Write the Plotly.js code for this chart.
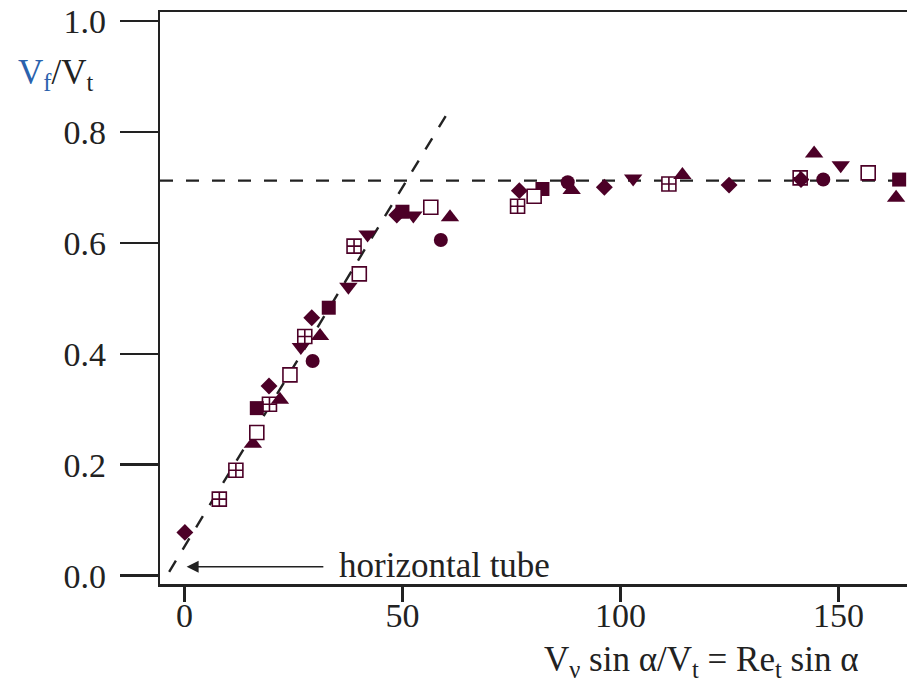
<!DOCTYPE html>
<html>
<head>
<meta charset="utf-8">
<script src="https://cdn.plot.ly/plotly-3.0.1.min.js"></script>
<style>html,body{margin:0;padding:0;background:#fff;}#chart{width:907px;height:684px;}</style>
</head>
<body>
<div id="chart"></div>
<script>
// ---- data ----
const diamondX = [0.1, 19.4, 29.2, 48.7, 76.8, 96.3, 124.9, 141.4];
const diamondY = [0.078, 0.342, 0.465, 0.650, 0.694, 0.700, 0.704, 0.714];

const openSquareX = [16.6, 24.2, 40.1, 56.5, 80.2, 156.8];
const openSquareY = [0.258, 0.362, 0.544, 0.664, 0.684, 0.726];

const crossSquareX = [8.0, 11.8, 19.5, 27.6, 38.9, 76.4, 111.1, 141.2];
const crossSquareY = [0.138, 0.190, 0.309, 0.431, 0.594, 0.666, 0.706, 0.717];

const filledSquareX = [16.6, 33.1, 50.0, 82.1, 163.9];
const filledSquareY = [0.302, 0.483, 0.656, 0.697, 0.714];

const circleX = [29.4, 58.8, 87.9, 146.5];
const circleY = [0.387, 0.605, 0.709, 0.714];

const triUpX = [15.7, 21.9, 31.1, 60.9, 88.8, 114.2, 144.4, 163.2];
const triUpY = [0.238, 0.317, 0.432, 0.646, 0.695, 0.722, 0.761, 0.681];

const triDownX = [26.7, 37.6, 42.0, 52.5, 102.9, 150.5];
const triDownY = [0.412, 0.521, 0.615, 0.649, 0.716, 0.740];

// dashed guide lines
const slopeLineX = [-3.5, 61.2];
const slopeLineY = [0.007, 0.845];
const plateauX = [-5.6, 165.7];
const plateauY = [0.712, 0.712];

// axis ticks
const xTicks = [0, 50, 100, 150];
const yTicks = [0.0, 0.2, 0.4, 0.6, 0.8, 1.0];

// arrow for "horizontal tube"
const arrowTail = [32.2, 0.016];
const arrowHead = [0.5, 0.016];
const labelPos = [35.0, 0.019];

const MAROON = '#4c0027';
const FONT = 'Liberation Serif, Times New Roman, serif';

function filled(x, y, symbol, size) {
  return {x: x, y: y, type: 'scatter', mode: 'markers', hoverinfo: 'skip',
    marker: {symbol: symbol, size: size, color: MAROON, line: {width: 0}}};
}
function hollow(x, y, symbol, size) {
  return {x: x, y: y, type: 'scatter', mode: 'markers', hoverinfo: 'skip',
    marker: {symbol: symbol, size: size, color: '#ffffff', line: {width: 1.6, color: MAROON}}};
}

const dashLine = {color: '#222', width: 2.4, dash: '13px,13px'};

const data = [
  {x: plateauX, y: plateauY, type: 'scatter', mode: 'lines', line: dashLine, hoverinfo: 'skip'},
  {x: slopeLineX, y: slopeLineY, type: 'scatter', mode: 'lines', line: dashLine, hoverinfo: 'skip'},
  hollow(crossSquareX, crossSquareY, 'square-cross', 14),
  filled(diamondX, diamondY, 'diamond', 13),
  filled(filledSquareX, filledSquareY, 'square', 14),
  filled(circleX, circleY, 'circle', 14),
  filled(triUpX, triUpY, 'triangle-up', 16),
  filled(triDownX, triDownY, 'triangle-down', 16),
  hollow(openSquareX, openSquareY, 'square', 14)
];

const layout = {
  width: 907, height: 684,
  margin: {l: 160, r: 0, t: 12, b: 100},
  paper_bgcolor: '#ffffff', plot_bgcolor: '#ffffff',
  showlegend: false,
  font: {family: FONT, size: 34, color: '#222'},
  xaxis: {
    range: [-5.6, 165.7], tickvals: xTicks, ticktext: xTicks.map(String),
    showgrid: false, zeroline: false,
    showline: true, linecolor: '#222', linewidth: 2.5, mirror: true,
    ticks: 'outside', ticklen: 15, tickwidth: 2.5, tickcolor: '#222',
    ticklabelstandoff: -15,
    tickfont: {family: FONT, size: 34, color: '#222'}
  },
  yaxis: {
    range: [-0.015, 1.016], tickvals: yTicks,
    ticktext: yTicks.map(v => v.toFixed(1) + '\u2009'),
    showgrid: false, zeroline: false,
    showline: true, linecolor: '#222', linewidth: 2.5,
    ticks: 'outside', ticklen: 38, tickwidth: 2.5, tickcolor: '#222',
    tickfont: {family: FONT, size: 34, color: '#222'}
  },
  annotations: [
    {x: arrowHead[0], y: arrowHead[1], ax: arrowTail[0], ay: arrowTail[1],
     axref: 'x', ayref: 'y', xref: 'x', yref: 'y', text: '', showarrow: true,
     arrowhead: 2, arrowsize: 1.6, arrowwidth: 1.5, arrowcolor: '#222'},
    {x: labelPos[0], y: labelPos[1], xref: 'x', yref: 'y', xanchor: 'left', yanchor: 'middle',
     text: 'horizontal tube', showarrow: false, font: {family: FONT, size: 35, color: '#222'}},
    {x: 860, y: 662, xref: 'paper', yref: 'paper', showarrow: false,
     text: 'V<sub>ν</sub> sin α/V<sub>t</sub> = Re<sub>t</sub> sin α',
     xanchor: 'right', yanchor: 'middle', font: {family: FONT, size: 35, color: '#222'}},
    {x: 16, y: 75, xref: 'paper', yref: 'paper', showarrow: false,
     text: '<span style="color:#2a62ad">V<sub>f</sub></span>/V<sub>t</sub>',
     xanchor: 'left', yanchor: 'middle', font: {family: FONT, size: 35, color: '#222'}}
  ]
};

// place the two axis-label annotations by pixel position, converted to plot-area paper fractions
(function () {
  const plotL = 160, plotW = 907 - 160, plotB = 684 - 100, plotH = 684 - 12 - 100;
  [2, 3].forEach(function (i) {
    const a = layout.annotations[i];
    a.x = (a.x - plotL) / plotW;
    a.y = (plotB - a.y) / plotH;
  });
})();

Plotly.newPlot('chart', data, layout, {staticPlot: true, displayModeBar: false});
</script>
</body>
</html>
